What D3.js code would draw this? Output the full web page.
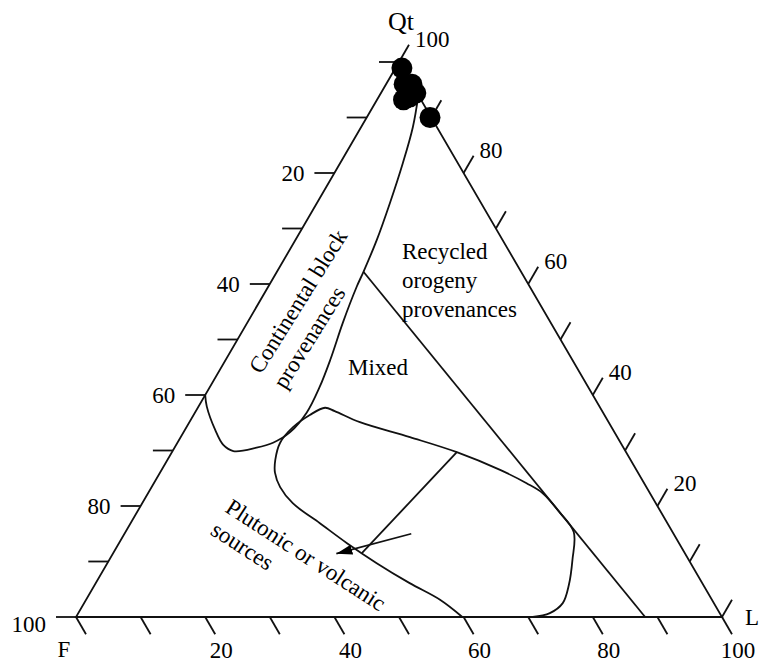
<!DOCTYPE html>
<html>
<head>
<meta charset="utf-8">
<script src="https://cdn.jsdelivr.net/npm/d3@7"></script>
<style>
  html, body { margin: 0; padding: 0; background: #fff; }
  svg { display: block; }
  text { font-family: "Liberation Serif", "Times New Roman", serif; font-size: 23px; fill: #000; }
</style>
</head>
<body>
<svg id="chart" width="766" height="662"></svg>
<script>
// ---------- DATA (percentages: [Qt, F, L]) ----------
const samples = [
  [98.9, 0.1, 1.0],
  [96.0, 1.2, 2.8],
  [96.0, 0.0, 4.0],
  [94.4, 0.2, 5.4],
  [93.2, 2.7, 4.1],
  [93.7, 1.5, 4.8],
  [90.0, 0.2, 9.8]
];

const continentalBoundary = [
  [40.0, 60.0, 0.0], [37.9, 60.8, 1.3], [33.7, 61.6, 4.7], [31.0, 61.7, 7.3],
  [29.9, 60.7, 9.4], [30.5, 56.8, 12.7], [31.4, 53.8, 14.8], [33.3, 50.2, 16.5],
  [36.8, 45.9, 17.3], [41.4, 41.6, 17.0], [46.3, 37.5, 16.2], [53.0, 32.2, 14.8],
  [59.5, 26.8, 13.7], [62.2, 24.4, 13.4], [67.9, 19.5, 12.6], [74.6, 14.1, 11.3],
  [81.8, 8.5, 9.7], [88.3, 3.7, 8.0], [94.0, 0.0, 6.0]
];

const recycledBoundary = [
  [62.2, 24.4, 13.4], [0.0, 11.9, 88.1]
];

// magmatic-arc field outline, starting at its lower-left corner on the F-L side
const arcField = [
  [0.0, 40.2, 59.8], [0.0, 35.0, 65.0], [0.0, 31.5, 68.5], [0.0, 29.3, 70.7],
  [0.7, 26.3, 73.0], [2.5, 23.4, 74.1], [5.8, 20.8, 73.4], [10.3, 18.0, 71.7],
  [15.3, 15.3, 69.4], [18.8, 15.7, 65.5], [22.3, 16.6, 61.1], [24.1, 18.2, 57.7],
  [26.5, 21.1, 52.4], [29.7, 26.2, 44.1], [32.4, 32.1, 35.5], [35.1, 38.5, 26.4],
  [37.1, 41.4, 21.5], [37.7, 42.6, 19.7], [36.4, 45.6, 18.0], [34.2, 49.3, 16.5],
  [31.4, 52.7, 15.9], [28.3, 55.0, 16.7], [26.0, 56.2, 17.8], [23.4, 56.7, 19.9],
  [20.5, 56.2, 23.3], [16.9, 53.8, 29.3], [13.3, 51.4, 35.3], [9.7, 48.6, 41.7],
  [6.1, 45.3, 48.6], [3.1, 42.1, 54.8], [0.0, 40.2, 59.8]
];

const arcDivider = [
  [29.7, 26.2, 44.1], [11.5, 50.0, 38.5]
];

const arrowLine = [
  [15.0, 40.6, 44.4], [11.4, 54.0, 34.6]
];

const tickSteps = [0, 10, 20, 30, 40, 50, 60, 70, 80, 90, 100];
const fLabels = [20, 40, 60, 80, 100];   // left side (F)
const lLabels = [20, 40, 60, 80, 100];   // bottom side (L)
const qtLabels = [20, 40, 60, 80, 100];  // right side (Qt)

// ---------- SCALES ----------
const svg = d3.select("#chart");
const H3 = Math.sqrt(3) / 2;
const x = d3.scaleLinear().domain([0, 1]).range([76, 722]);
const y = d3.scaleLinear().domain([0, H3]).range([617, 62]);

function proj(d) {
  const s = d[0] + d[1] + d[2];
  const q = d[0] / s, l = d[2] / s;
  return [x(l + q / 2), y(q * H3)];
}

const STROKE = "#111";
const SW = 1.8;

const lineLinear = d3.line().x(d => proj(d)[0]).y(d => proj(d)[1]);
const lineCurve = d3.line().x(d => proj(d)[0]).y(d => proj(d)[1]).curve(d3.curveCatmullRom.alpha(0.5));

// ---------- TRIANGLE ----------
svg.append("path")
  .attr("d", lineLinear([[100, 0, 0], [0, 100, 0], [0, 0, 100]]) + "Z")
  .attr("fill", "none").attr("stroke", STROKE).attr("stroke-width", SW)
  .attr("stroke-linejoin", "miter");

// ---------- TICKS ----------
const TL = 20;
const tickG = svg.append("g").attr("stroke", STROKE).attr("stroke-width", SW);
tickSteps.forEach(v => {
  let p = proj([100 - v, v, 0]);
  tickG.append("line").attr("x1", p[0]).attr("y1", p[1]).attr("x2", p[0] - TL).attr("y2", p[1]);
  p = proj([v, 0, 100 - v]);
  tickG.append("line").attr("x1", p[0]).attr("y1", p[1]).attr("x2", p[0] + TL * 0.5).attr("y2", p[1] - TL * H3);
  p = proj([0, 100 - v, v]);
  tickG.append("line").attr("x1", p[0]).attr("y1", p[1]).attr("x2", p[0] + TL * 0.5).attr("y2", p[1] + TL * H3);
});

// ---------- TICK LABELS ----------
fLabels.forEach(v => {
  const p = proj([100 - v, v, 0]);
  svg.append("text").attr("text-anchor", "end")
    .attr("x", p[0] - TL - 10).attr("y", p[1] + 7.5 + (v === 100 ? 7 : 0)).text(v);
});
lLabels.forEach(v => {
  const p = proj([0, 100 - v, v]);
  svg.append("text").attr("text-anchor", "middle")
    .attr("x", p[0] + TL * 0.5 + 6).attr("y", 658).text(v);
});
qtLabels.forEach(v => {
  const p = proj([v, 0, 100 - v]);
  svg.append("text").attr("text-anchor", "start")
    .attr("x", p[0] + TL * 0.5 + 6).attr("y", p[1] - TL * H3 - 5 + 7.5).text(v);
});

// vertex labels
svg.append("text").attr("text-anchor", "middle").attr("x", 401).attr("y", 30)
  .style("font-size", "26px").text("Qt");
svg.append("text").attr("text-anchor", "start").attr("x", 745).attr("y", 625).text("L");
svg.append("text").attr("text-anchor", "middle").attr("x", 64).attr("y", 657).text("F");

// ---------- FIELD BOUNDARIES ----------
svg.append("path").attr("d", lineCurve(continentalBoundary))
  .attr("fill", "none").attr("stroke", STROKE).attr("stroke-width", SW);
svg.append("path").attr("d", lineLinear(recycledBoundary))
  .attr("fill", "none").attr("stroke", STROKE).attr("stroke-width", SW);
svg.append("path").attr("d", lineCurve(arcField))
  .attr("fill", "none").attr("stroke", STROKE).attr("stroke-width", SW)
  .attr("stroke-linejoin", "round");
svg.append("path").attr("d", lineLinear(arcDivider))
  .attr("fill", "none").attr("stroke", STROKE).attr("stroke-width", SW);

// arrow
svg.append("defs").append("marker")
  .attr("id", "ah").attr("viewBox", "0 0 16 10").attr("refX", 16).attr("refY", 5)
  .attr("markerWidth", 16).attr("markerHeight", 10).attr("markerUnits", "userSpaceOnUse")
  .attr("orient", "auto")
  .append("path").attr("d", "M0,0 L16,5 L0,10 Z").attr("fill", "#000");
svg.append("path").attr("d", lineLinear(arrowLine))
  .attr("fill", "none").attr("stroke", STROKE).attr("stroke-width", SW)
  .attr("marker-end", "url(#ah)");

// ---------- REGION LABELS ----------
const rec = svg.append("text").attr("x", 402).attr("y", 259);
["Recycled", "orogeny", "provenances"].forEach((t, i) =>
  rec.append("tspan").attr("x", 402).attr("dy", i === 0 ? 0 : 29).text(t));

svg.append("text").attr("x", 348).attr("y", 375).text("Mixed");

const cont = svg.append("text").attr("transform", "translate(261,375) rotate(-58)");
["Continental block", "provenances"].forEach((t, i) =>
  cont.append("tspan").attr("x", 0).attr("dy", i === 0 ? 0 : 28.6).text(t));

const plu = svg.append("text").attr("transform", "translate(224,511) rotate(33)");
["Plutonic or volcanic", "sources"].forEach((t, i) =>
  plu.append("tspan").attr("x", 0).attr("dy", i === 0 ? 0 : 27).text(t));

// ---------- SAMPLES ----------
svg.append("g").selectAll("circle").data(samples).join("circle")
  .attr("cx", d => proj(d)[0]).attr("cy", d => proj(d)[1])
  .attr("r", 10.5).attr("fill", "#000");
</script>
</body>
</html>
